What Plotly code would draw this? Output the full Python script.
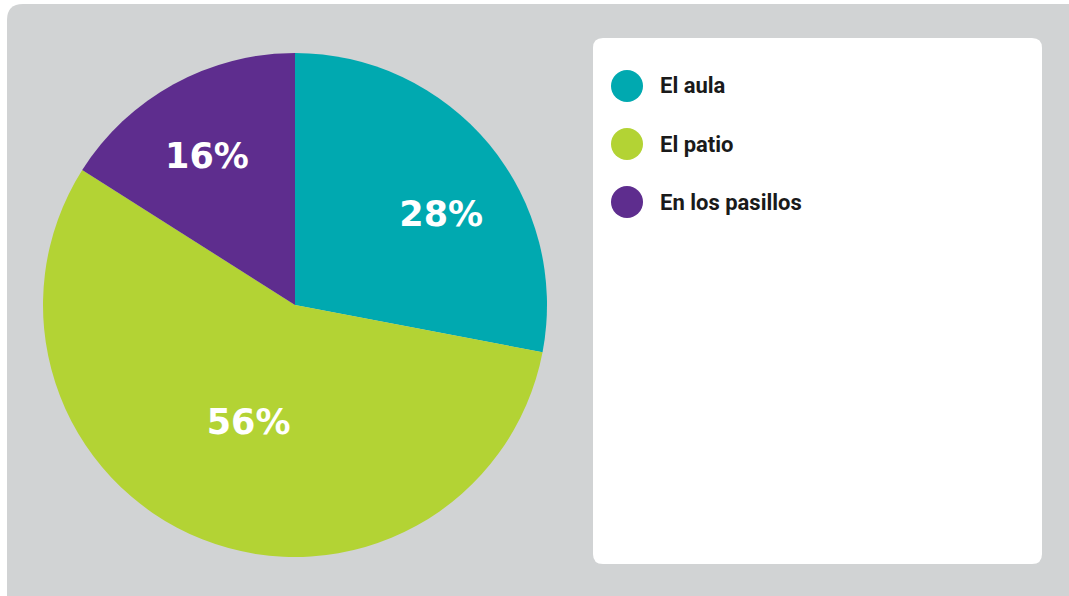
import plotly.graph_objects as go

W, H = 1069, 596

categories = ["El aula", "El patio", "En los pasillos"]
values = [28, 56, 16]
colors = ["#00A9B0", "#B3D334", "#5E2D8E"]
label_templates = ["\u00a0" * 6 + "%{percent}", "%{percent}", "%{percent}" + "\u00a0"]

def px_x(x):
    return x / W

def px_y(y):
    return 1 - y / H

def rounded_rect(x0, y0, x1, y1, r):
    pts = [
        ("M", x0 + r, y0),
        ("L", x1 - r, y0),
        ("Q", x1, y0, x1, y0 + r),
        ("L", x1, y1 - r),
        ("Q", x1, y1, x1 - r, y1),
        ("L", x0 + r, y1),
        ("Q", x0, y1, x0, y1 - r),
        ("L", x0, y0 + r),
        ("Q", x0, y0, x0 + r, y0),
    ]
    parts = []
    for p in pts:
        cmd = p[0]
        coords = p[1:]
        s = []
        for i in range(0, len(coords), 2):
            s.append(f"{px_x(coords[i]):.5f},{px_y(coords[i+1]):.5f}")
        parts.append(cmd + " " + " ".join(s))
    return " ".join(parts) + " Z"

shapes = [
    dict(type="path", xref="paper", yref="paper", layer="below",
         path=rounded_rect(7, 4, 1090, 620, 16),
         fillcolor="#D1D3D4", line=dict(width=0)),
    dict(type="path", xref="paper", yref="paper", layer="below",
         path=rounded_rect(593, 38, 1042, 564, 10),
         fillcolor="#FFFFFF", line=dict(width=0)),
]

annotations = []
row0, step, rad = 86, 58, 16
for i, (name, col) in enumerate(zip(categories, colors)):
    cy = row0 + i * step
    shapes.append(dict(type="circle", xref="paper", yref="paper", layer="above",
                       x0=px_x(627 - rad), x1=px_x(627 + rad),
                       y0=px_y(cy + rad), y1=px_y(cy - rad),
                       fillcolor=col, line=dict(width=0)))
    annotations.append(dict(x=px_x(658), y=px_y(cy), xref="paper", yref="paper",
                            text=f"<b>{name}</b>", showarrow=False,
                            xanchor="left", yanchor="middle",
                            font=dict(family="Roboto", size=22, color="#1A1A1A")))

fig = go.Figure(go.Pie(
    labels=categories,
    values=values,
    marker=dict(colors=colors, line=dict(width=0)),
    sort=False,
    direction="clockwise",
    rotation=0,
    texttemplate=label_templates,
    textposition="inside",
    insidetextorientation="horizontal",
    textfont=dict(family="DejaVu Sans", size=35, color="white", weight="bold"),
    domain=dict(x=[px_x(43), px_x(547)], y=[1 - 557 / H, 1 - 53 / H]),
    showlegend=False,
    hoverinfo="label+percent",
))

fig.update_layout(
    width=W, height=H,
    margin=dict(l=0, r=0, t=0, b=0),
    paper_bgcolor="white",
    plot_bgcolor="white",
    shapes=shapes,
    annotations=annotations,
)

fig.write_html("out.html",
               config={"displayModeBar": False},
               post_script="document.body.style.margin='0';document.body.style.overflow='hidden';")
